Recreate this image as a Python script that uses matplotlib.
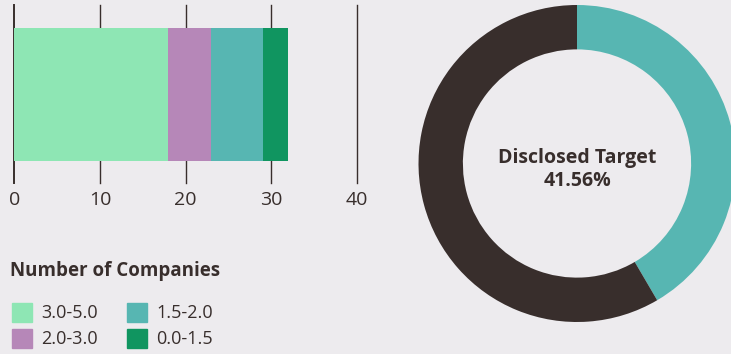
import matplotlib
matplotlib.use('Agg')
import matplotlib.pyplot as plt
from matplotlib.patches import Rectangle

# data
groups = ['3.0-5.0', '2.0-3.0', '1.5-2.0', '0.0-1.5']
counts = [18, 5, 6, 3]
bar_colors = ['#8ee6b4', '#b687b8', '#57b6b2', '#109560']
ticks = [0, 10, 20, 30, 40]
donut_labels = ['Disclosed Target', 'Other']
donut_values = [32, 45]
donut_colors = ['#57b6b2', '#382e2c']

bg = '#edebee'
dark = '#382e2c'
W, H = 731, 354

plt.rcParams['font.family'] = ['Open Sans', 'DejaVu Sans']

fig = plt.figure(figsize=(W / 100, H / 100), dpi=100, facecolor=bg)


def px_axes(x0, y0, x1, y1):
    # pixel box (top-left origin) -> figure axes
    return fig.add_axes([x0 / W, 1 - y1 / H, (x1 - x0) / W, (y1 - y0) / H])


# stacked bar
ax = px_axes(14.3, 5, 356.7, 183)
ax.set_facecolor(bg)
ax.set_xlim(0, 40)
ax.set_ylim(0, 178)
for t in ticks:
    ax.axvline(t, color=dark, lw=1.4 if t == 0 else 1.0, zorder=1, clip_on=False)
left = 0
for g, c, col in zip(groups, counts, bar_colors):
    ax.barh(88.5, c, height=133, left=left, color=col, zorder=2, label=g)
    left += c
for s in ax.spines.values():
    s.set_visible(False)
ax.set_yticks([])
ax.set_xticks(ticks)
ax.set_xticklabels([str(t) for t in ticks], fontsize=14, color=dark)
ax.tick_params(axis='x', length=0, pad=6)

# legend title and entries
fig.text(10 / W, 1 - 271 / H, 'Number of Companies', fontsize=13.5,
         fontweight='bold', color=dark, va='center', ha='left')
pos = [(12, 303), (12, 329), (127, 303), (127, 329)]
for (x, y), g, col in zip(pos, groups, bar_colors):
    fig.patches.append(Rectangle((x / W, 1 - (y + 19) / H), 20 / W, 19 / H,
                                 transform=fig.transFigure, color=col))
    fig.text((x + 29) / W, 1 - (y + 10) / H, g, fontsize=13, color=dark,
             va='center', ha='left')

# donut
cx, cy, r = 577, 163.5, 158.5
ax2 = px_axes(cx - r, cy - r, cx + r, cy + r)
ax2.set_facecolor(bg)
ax2.pie(donut_values, colors=donut_colors, startangle=90, counterclock=False,
        radius=1, wedgeprops=dict(width=0.28, linewidth=0))
ax2.set_xlim(-1, 1)
ax2.set_ylim(-1, 1)
ax2.set_aspect('equal')
ax2.axis('off')
pct = donut_values[0] / sum(donut_values) * 100
ax2.text(0, -0.04, '%s\n%.2f%%' % (donut_labels[0], pct), ha='center', va='center',
         fontsize=14, fontweight='bold', color=dark, linespacing=1.2)

fig.savefig('out.png', dpi=100, facecolor=bg)
